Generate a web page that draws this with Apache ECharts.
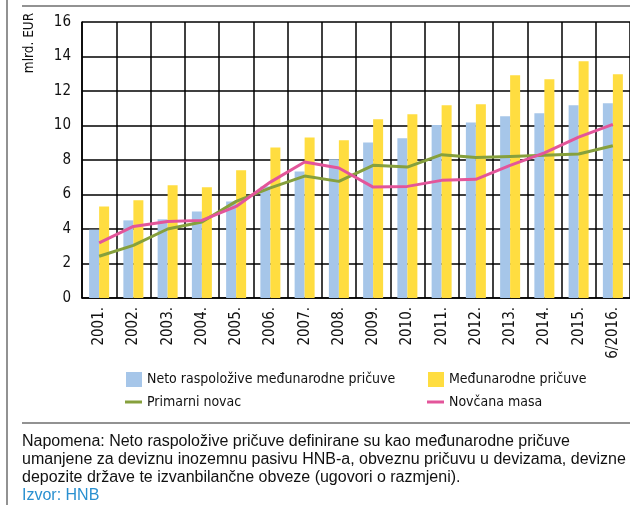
<!DOCTYPE html>
<html>
<head>
<meta charset="utf-8">
<script src="https://cdn.jsdelivr.net/npm/echarts@6/dist/echarts.min.js"></script>
<style>
  html, body { margin: 0; padding: 0; background: #fff; }
  #chart { width: 630px; height: 505px; }
</style>
</head>
<body>
<div id="chart"></div>
<script>
// Categories (years, last one is June 2016)
const years = ['2001.', '2002.', '2003.', '2004.', '2005.', '2006.', '2007.', '2008.',
  '2009.', '2010.', '2011.', '2012.', '2013.', '2014.', '2015.', '6/2016.'];

// Series values, billion EUR
const netoPricuve = [3.96, 4.50, 4.56, 5.02, 5.60, 6.47, 7.34, 8.04,
  9.02, 9.26, 10.03, 10.18, 10.53, 10.71, 11.17, 11.29];
const medjunarodnePricuve = [5.31, 5.66, 6.53, 6.42, 7.40, 8.73, 9.31, 9.14,
  10.36, 10.65, 11.17, 11.23, 12.91, 12.68, 13.72, 12.97];
const primarniNovac = [2.42, 3.05, 4.00, 4.41, 5.60, 6.38, 7.07, 6.76,
  7.69, 7.59, 8.31, 8.14, 8.21, 8.27, 8.35, 8.83];
const novcanaMasa = [3.19, 4.15, 4.44, 4.50, 5.31, 6.72, 7.88, 7.54,
  6.43, 6.47, 6.82, 6.88, 7.69, 8.41, 9.33, 10.07];

// Y axis ticks
const yMin = 0, yMax = 16, yStep = 2;

const names = {
  neto: 'Neto raspoložive međunarodne pričuve',
  medj: 'Međunarodne pričuve',
  prim: 'Primarni novac',
  novc: 'Novčana masa'
};

const noteLines = [
  'Napomena: Neto raspoložive pričuve definirane su kao međunarodne pričuve',
  'umanjene za deviznu inozemnu pasivu HNB-a, obveznu pričuvu u devizama, devizne',
  'depozite države te izvanbilančne obveze (ugovori o razmjeni).'
];
const sourceLine = 'Izvor: HNB';

const condensed = '"DejaVu Sans Condensed", "Liberation Sans Narrow", sans-serif';
const regular = '"Liberation Sans", Arial, Helvetica, sans-serif';

const chart = echarts.init(document.getElementById('chart'), null, { renderer: 'canvas' });

const legendText = { fontFamily: condensed, fontSize: 14, color: '#111' };

const graphics = [
  // frame lines
  { type: 'line', shape: { x1: 7, y1: 0, x2: 7, y2: 505 }, style: { stroke: '#6e6e6e', lineWidth: 1.5 } },
  { type: 'line', shape: { x1: 22, y1: 6, x2: 630, y2: 6 }, style: { stroke: '#6e6e6e', lineWidth: 1.5 } },
  { type: 'line', shape: { x1: 22, y1: 423, x2: 630, y2: 423 }, style: { stroke: '#6e6e6e', lineWidth: 1.5 } },
  // unit label
  {
    type: 'text', x: 29, y: 43, rotation: Math.PI / 2,
    style: { text: 'mlrd. EUR', fontFamily: condensed, fontSize: 13.5, fill: '#111',
      align: 'center', verticalAlign: 'middle' }
  }
];
noteLines.forEach((t, i) => {
  graphics.push({
    type: 'text', left: 22, top: 434 + i * 18,
    style: { text: t, fontFamily: regular, fontSize: 16, fill: '#111' }
  });
});
graphics.push({
  type: 'text', left: 22, top: 434 + 3 * 18,
  style: { text: sourceLine, fontFamily: regular, fontSize: 16, fill: '#2a90d0' }
});

const legendBase = { padding: 0, itemGap: 0, textStyle: legendText, icon: 'rect' };

const option = {
  animation: false,
  backgroundColor: '#fff',
  grid: { left: 82, top: 22, width: 553, height: 276, containLabel: false },
  legend: [
    Object.assign({ data: [names.neto], left: 126, top: 372, itemWidth: 16, itemHeight: 15 }, legendBase),
    Object.assign({ data: [names.medj], left: 428, top: 372, itemWidth: 16, itemHeight: 15 }, legendBase),
    Object.assign({ data: [names.prim], left: 125, top: 395, itemWidth: 17, itemHeight: 3 }, legendBase),
    Object.assign({ data: [names.novc], left: 427, top: 395, itemWidth: 17, itemHeight: 3 }, legendBase)
  ],
  xAxis: {
    type: 'category',
    data: years,
    boundaryGap: true,
    axisLine: { show: true, lineStyle: { color: '#000', width: 1.5 } },
    axisTick: { show: false },
    splitLine: { show: true, interval: 0, lineStyle: { color: '#000', width: 1.5 } },
    axisLabel: {
      interval: 0, rotate: 90, margin: 9,
      fontFamily: condensed, fontSize: 15, color: '#111'
    }
  },
  yAxis: {
    type: 'value',
    min: yMin, max: yMax, interval: yStep,
    axisLine: { show: true, lineStyle: { color: '#000', width: 1.5 } },
    axisTick: { show: false },
    splitLine: { show: true, lineStyle: { color: '#000', width: 1.5 } },
    axisLabel: { margin: 11, fontFamily: condensed, fontSize: 15, color: '#111' }
  },
  series: [
    {
      name: names.neto, type: 'bar', data: netoPricuve,
      barWidth: 10, barGap: '0%',
      itemStyle: { color: '#a6c6e9' }, z: 2
    },
    {
      name: names.medj, type: 'bar', data: medjunarodnePricuve,
      barWidth: 10, barGap: '0%',
      itemStyle: { color: '#ffdd40' }, z: 2
    },
    {
      name: names.prim, type: 'line', data: primarniNovac,
      symbol: 'none', lineStyle: { color: '#86a03c', width: 3 },
      itemStyle: { color: '#86a03c' }, z: 3
    },
    {
      name: names.novc, type: 'line', data: novcanaMasa,
      symbol: 'none', lineStyle: { color: '#e3559a', width: 3 },
      itemStyle: { color: '#e3559a' }, z: 4
    }
  ],
  graphic: graphics
};

chart.setOption(option);
</script>
</body>
</html>
